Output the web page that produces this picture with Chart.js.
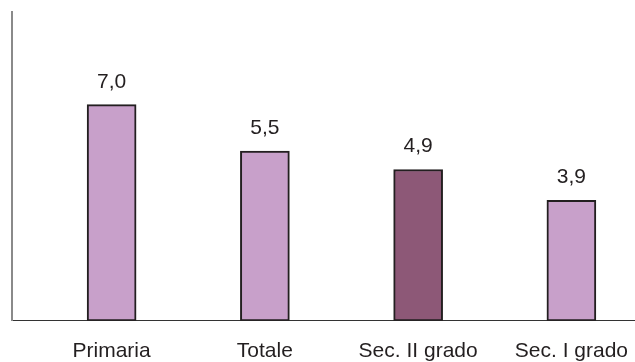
<!DOCTYPE html>
<html>
<head>
<meta charset="utf-8">
<script src="https://cdn.jsdelivr.net/npm/chart.js@4/dist/chart.umd.min.js"></script>
<style>
  html, body { margin: 0; padding: 0; background: #ffffff; }
  #wrap { width: 635px; height: 362px; }
</style>
</head>
<body>
<div id="wrap"><canvas id="c" width="635" height="362"></canvas></div>
<script>
// Categories and values
const categories = ['Primaria', 'Totale', 'Sec. II grado', 'Sec. I grado'];
const values = [7.0, 5.5, 4.9, 3.9];
const highlighted = 'Sec. II grado';

const LIGHT = '#c8a0ca';
const DARK = '#8d5877';
const INK = '#231f20';
const FONT = '"Liberation Sans", Arial, Helvetica, sans-serif';

const fmt = v => v.toFixed(1).replace('.', ',');

// Values written above each bar
const valueLabels = {
  id: 'valueLabels',
  afterDatasetsDraw(chart) {
    const ctx = chart.ctx;
    const meta = chart.getDatasetMeta(0);
    ctx.save();
    ctx.font = '21px ' + FONT;
    ctx.fillStyle = INK;
    ctx.textAlign = 'center';
    ctx.textBaseline = 'alphabetic';
    meta.data.forEach((bar, i) => {
      ctx.fillText(fmt(values[i]), bar.x, bar.y - 17);
    });
    ctx.restore();
  }
};

new Chart(document.getElementById('c'), {
  type: 'bar',
  data: {
    datasets: [{
      data: categories.map((c, i) => ({ x: i, y: values[i] })),
      backgroundColor: categories.map(c => c === highlighted ? DARK : LIGHT),
      borderColor: INK,
      borderWidth: 2,
      borderSkipped: false,
      barThickness: 49
    }]
  },
  options: {
    responsive: false,
    animation: false,
    devicePixelRatio: 1,
    layout: { padding: { left: 12, top: 12, right: 0, bottom: -20 } },
    plugins: { legend: { display: false }, tooltip: { enabled: false } },
    scales: {
      x: {
        type: 'linear',
        offset: false,
        min: -0.65,
        max: 3.415,
        grid: { display: false, drawTicks: false, offset: false },
        border: { display: true, color: '#333333', width: 1 },
        afterBuildTicks: scale => { scale.ticks = categories.map((c, i) => ({ value: i })); },
        afterFit: scale => { scale.paddingLeft = 0; scale.paddingRight = 0; },
        ticks: {
          autoSkip: false,
          maxRotation: 0,
          padding: 18,
          color: INK,
          font: { family: FONT, size: 21 },
          callback: v => categories[v] ?? ''
        }
      },
      y: {
        min: 0,
        max: 10,
        grid: { display: false, drawTicks: false },
        border: { display: true, color: '#8a8a8a', width: 2 },
        ticks: { display: false }
      }
    }
  },
  plugins: [valueLabels]
});
</script>
</body>
</html>
